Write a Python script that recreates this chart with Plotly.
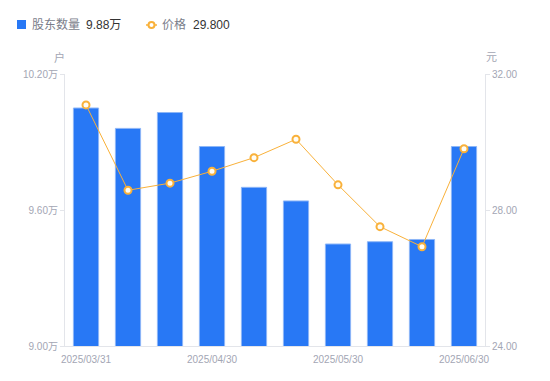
import plotly.graph_objects as go

dates = ["2025/03/31", "2025/04/10", "2025/04/18", "2025/04/30", "2025/05/09",
         "2025/05/20", "2025/05/30", "2025/06/10", "2025/06/20", "2025/06/30"]
holders_wan = [10.05, 9.96, 10.03, 9.88, 9.70, 9.64, 9.45, 9.46, 9.47, 9.88]
price = [31.09, 28.58, 28.79, 29.14, 29.54, 30.08, 28.74, 27.51, 26.92, 29.80]
shown_ticks = [dates[0], dates[3], dates[6], dates[9]]
left_ticks = [9.00, 9.60, 10.20]
right_ticks = [24.00, 28.00, 32.00]

# page body has an 8px margin; work in window pixel coordinates
OFF = 8
WIN_W, WIN_H = 550, 381
W, H = WIN_W - OFF, WIN_H - OFF
PL, PR, PT, PB = 65, 485, 74, 346  # plot area in window pixels
L, R, T, B = PL - OFF, W - (PR - OFF), PT - OFF, H - (PB - OFF)
PW, PH = PR - PL, PB - PT


def px(x):
    return (x - PL) / PW


def py(y):
    return (PB - y) / PH


FONT = "Liberation Sans, Noto Sans CJK SC, sans-serif"
BLUE = "#2878F5"
ORANGE = "#F9B13A"
GREY = "#A3A6B4"
AXIS = "#E3E5EA"

fig = go.Figure()
fig.add_trace(go.Bar(
    x=dates, y=holders_wan, name="股东数量",
    marker=dict(color=BLUE, line=dict(color="#8DB6F7", width=1)),
    yaxis="y", showlegend=False,
))
fig.add_trace(go.Scatter(
    x=dates, y=price, name="价格", mode="lines+markers",
    line=dict(color=ORANGE, width=1),
    marker=dict(size=7, color="#FFFDF5", line=dict(color=ORANGE, width=2)),
    yaxis="y2", showlegend=False,
))

fig.update_layout(
    width=W, height=H,
    margin=dict(l=L, r=R, t=T, b=B, pad=0, autoexpand=False),
    paper_bgcolor="white", plot_bgcolor="white",
    font=dict(family=FONT, size=10, color=GREY),
    bargap=0.4,
    xaxis=dict(
        type="category", tickvals=shown_ticks, ticktext=shown_ticks,
        range=[-0.5, len(dates) - 0.5], automargin=False,
        showgrid=False, showline=True, linecolor=AXIS, linewidth=1,
        ticks="outside", ticklen=4, tickcolor="rgba(0,0,0,0)",
        tickfont=dict(size=10, color=GREY), zeroline=False,
        fixedrange=True,
    ),
    yaxis=dict(
        range=[9.0, 10.2], tickvals=left_ticks, automargin=False,
        ticktext=[f"{v:.2f}万" for v in left_ticks],
        showgrid=False, showline=True, linecolor=AXIS, linewidth=1,
        ticks="outside", ticklen=4, tickcolor=AXIS,
        tickfont=dict(size=10, color=GREY), zeroline=False,
    ),
    yaxis2=dict(
        range=[24, 32], tickvals=right_ticks, automargin=False,
        ticktext=[f"{v:.2f}" for v in right_ticks],
        overlaying="y", side="right",
        showgrid=False, showline=True, linecolor=AXIS, linewidth=1,
        ticks="outside", ticklen=4, tickcolor=AXIS,
        tickfont=dict(size=10, color=GREY), zeroline=False,
    ),
)

ann = []
ann.append(dict(text="户", x=px(59), y=py(57), xref="paper", yref="paper",
                showarrow=False, font=dict(size=11, color=GREY), xanchor="center", yanchor="middle"))
ann.append(dict(text="元", x=px(491), y=py(57), xref="paper", yref="paper",
                showarrow=False, font=dict(size=11, color=GREY), xanchor="center", yanchor="middle"))
ann.append(dict(text="股东数量", x=px(30), y=py(25), xref="paper", yref="paper",
                showarrow=False, font=dict(size=12, color="#7A7D8A"), xanchor="left", yanchor="middle"))
ann.append(dict(text=f"{holders_wan[-1]:.2f}万", x=px(84), y=py(25), xref="paper", yref="paper",
                showarrow=False, font=dict(size=12, color="#333333"), xanchor="left", yanchor="middle"))
ann.append(dict(text="价格", x=px(160), y=py(25), xref="paper", yref="paper",
                showarrow=False, font=dict(size=12, color="#7A7D8A"), xanchor="left", yanchor="middle"))
ann.append(dict(text=f"{price[-1]:.3f}", x=px(191), y=py(25), xref="paper", yref="paper",
                showarrow=False, font=dict(size=12, color="#333333"), xanchor="left", yanchor="middle"))
fig.update_layout(annotations=ann)

shapes = [
    dict(type="rect", xref="paper", yref="paper", x0=px(17), x1=px(26), y0=py(29), y1=py(20),
         fillcolor=BLUE, line=dict(width=0)),
    dict(type="line", xref="paper", yref="paper", x0=px(146), x1=px(157), y0=py(25), y1=py(25),
         line=dict(color=ORANGE, width=1.5)),
    dict(type="circle", xref="paper", yref="paper", x0=px(148.5), x1=px(154.5), y0=py(28), y1=py(22),
         fillcolor="white", line=dict(color=ORANGE, width=2)),
]
fig.update_layout(shapes=shapes)

fig.write_html("out.html")
